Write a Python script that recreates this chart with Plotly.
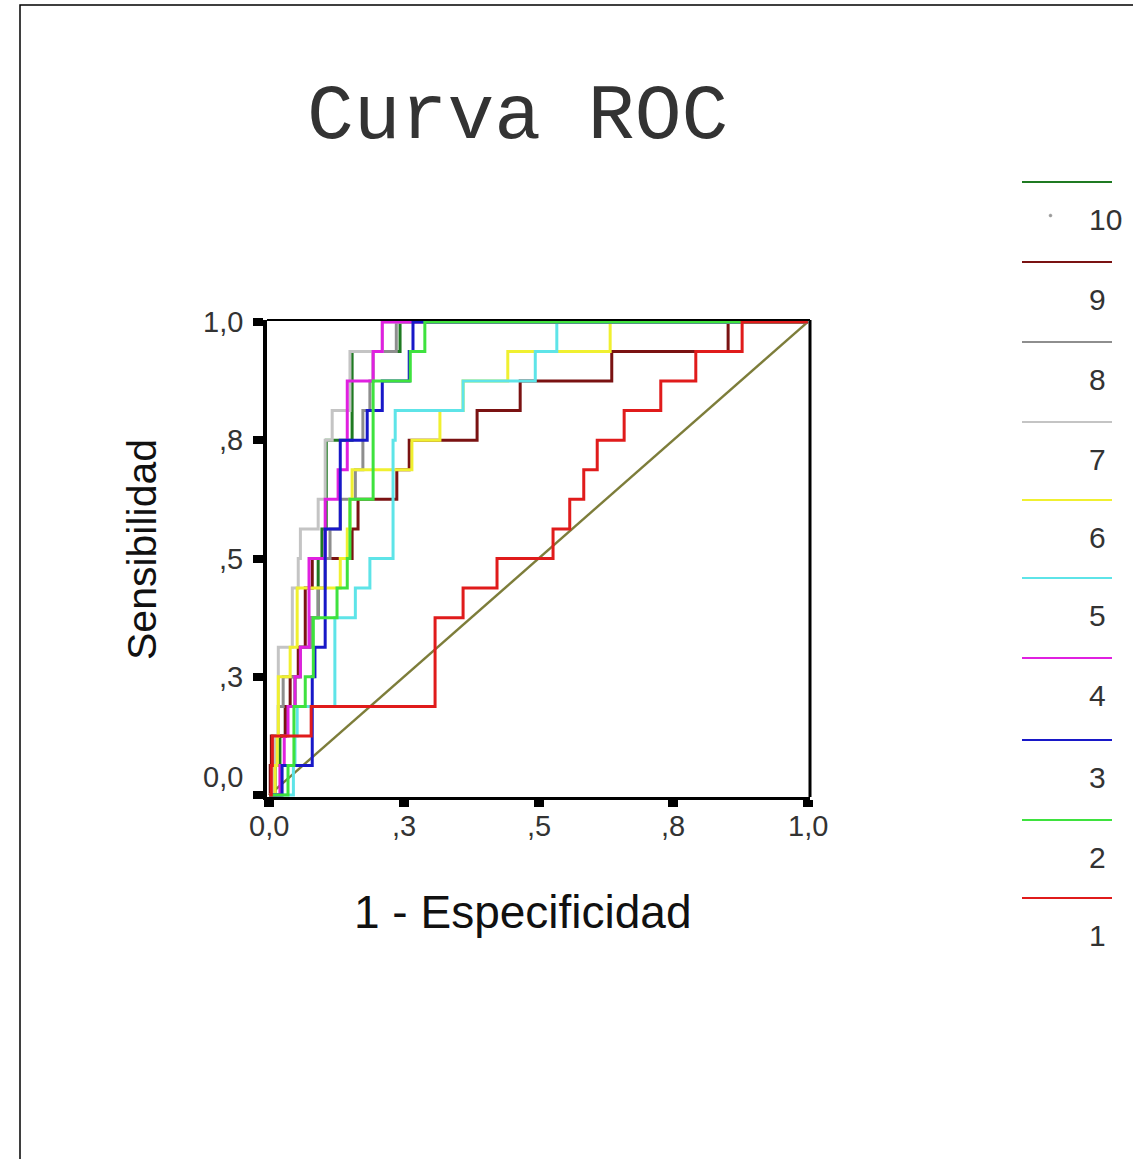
import plotly.graph_objects as go

# ---------------- data ----------------
# 1 - specificity at which each successive sensitivity step occurs (16 positives)
sensitivity_levels = [0.0625, 0.125, 0.1875, 0.25, 0.3125, 0.375, 0.4375, 0.5,
                      0.5625, 0.625, 0.6875, 0.75, 0.8125, 0.875, 0.9375, 1.0]

fpr_1 = [0.004, 0.006, 0.078, 0.308, 0.308, 0.308, 0.360, 0.423, 0.527, 0.558, 0.584, 0.609, 0.659, 0.727, 0.792, 0.878]
fpr_2 = [0.035, 0.046, 0.046, 0.067, 0.082, 0.082, 0.126, 0.145, 0.150, 0.150, 0.193, 0.193, 0.193, 0.193, 0.262, 0.289]
fpr_3 = [0.024, 0.080, 0.080, 0.080, 0.085, 0.104, 0.104, 0.104, 0.104, 0.132, 0.132, 0.132, 0.182, 0.210, 0.260, 0.267]
fpr_4 = [0.020, 0.028, 0.035, 0.048, 0.058, 0.074, 0.074, 0.074, 0.104, 0.104, 0.128, 0.145, 0.145, 0.145, 0.193, 0.210]
fpr_5 = [0.045, 0.048, 0.052, 0.122, 0.122, 0.122, 0.160, 0.187, 0.230, 0.230, 0.230, 0.230, 0.234, 0.360, 0.494, 0.534]
fpr_6 = [0.011, 0.015, 0.017, 0.017, 0.039, 0.052, 0.052, 0.132, 0.145, 0.150, 0.154, 0.265, 0.317, 0.360, 0.443, 0.633]
fpr_7 = [0.006, 0.011, 0.017, 0.017, 0.017, 0.043, 0.043, 0.054, 0.058, 0.091, 0.104, 0.104, 0.117, 0.150, 0.150, 0.210]
fpr_8 = [0.007, 0.011, 0.017, 0.026, 0.058, 0.076, 0.091, 0.104, 0.113, 0.132, 0.160, 0.174, 0.174, 0.187, 0.193, 0.236]
fpr_9 = [0.002, 0.004, 0.030, 0.039, 0.054, 0.067, 0.067, 0.080, 0.154, 0.165, 0.237, 0.260, 0.386, 0.466, 0.636, 0.852]
fpr_10 = [0.011, 0.020, 0.030, 0.048, 0.058, 0.076, 0.091, 0.091, 0.098, 0.106, 0.106, 0.106, 0.154, 0.154, 0.154, 0.243]

series_labels = ["1", "2", "3", "4", "5", "6", "7", "8", "9", "10"]
series_fpr = [fpr_1, fpr_2, fpr_3, fpr_4, fpr_5, fpr_6, fpr_7, fpr_8, fpr_9, fpr_10]

reference_x = [0.0, 1.0]
reference_y = [0.0, 1.0]

xtick_vals = [0.0, 0.25, 0.5, 0.75, 1.0]
xtick_text = ["0,0", ",3", ",5", ",8", "1,0"]
ytick_vals = [0.0, 0.25, 0.5, 0.75, 1.0]
ytick_text = ["0,0", ",3", ",5", ",8", "1,0"]

title_text = "Curva ROC"
x_title = "1 - Especificidad"
y_title = "Sensibilidad"

# ---------------- styles ----------------
colors = ["#e01b1b", "#3ee23e", "#1818c8", "#e020e0", "#5ee4e8",
          "#f0f030", "#c4c4c4", "#8e8e8e", "#7a1212", "#1f7a22"]
ref_color = "#7d7d3a"
tick_font = dict(family="Arial, Liberation Sans", size=29, color="#333")

W, H = 1133, 1159
ML, MR, MT, MB = 267, 323, 320, 362
PW, PH = W - ML - MR, H - MT - MB
pad = 0.004


def px_x(px):
    return (px - ML) / PW


def px_y(py):
    return (H - MB - py) / PH


def roc_path(fpr, sens):
    xs, ys = [0.0], [0.0]
    prev = 0.0
    for xv, yv in zip(fpr, sens):
        xs += [xv, xv]
        ys += [prev, yv]
        prev = yv
    xs.append(1.0)
    ys.append(1.0)
    return xs, ys


fig = go.Figure()

fig.add_trace(go.Scatter(x=reference_x, y=reference_y, mode="lines",
                         line=dict(color=ref_color, width=2.4), showlegend=False,
                         hoverinfo="skip"))

# series drawn from 10 down to 1 so that series 1 ends on top
for lab, fpr, col in reversed(list(zip(series_labels, series_fpr, colors))):
    xs, ys = roc_path(fpr, sensitivity_levels)
    fig.add_trace(go.Scatter(x=xs, y=ys, mode="lines", name=lab,
                             line=dict(color=col, width=3),
                             showlegend=False))

shapes = []
annotations = []

# frame top/right thin lines of plot box
shapes.append(dict(type="line", xref="paper", yref="paper", x0=0, x1=1, y0=1, y1=1,
                   line=dict(color="black", width=2)))
shapes.append(dict(type="line", xref="paper", yref="paper", x0=1, x1=1, y0=0, y1=1,
                   line=dict(color="black", width=3)))

# outer border of the picture
shapes.append(dict(type="rect", xref="paper", yref="paper",
                   x0=px_x(20), x1=px_x(1150), y0=px_y(1180), y1=px_y(5),
                   line=dict(color="black", width=1.5)))

# manual legend: line above label, from 10 (top) to 1 (bottom)
legend_line_y = [898, 820, 740, 658, 578, 500, 422, 342, 262, 182]
for lab, col, ly in zip(series_labels, colors, legend_line_y):
    shapes.append(dict(type="line", xref="paper", yref="paper",
                       x0=px_x(1022), x1=px_x(1112), y0=px_y(ly), y1=px_y(ly),
                       line=dict(color=col, width=2)))
    annotations.append(dict(text=lab, xref="paper", yref="paper",
                            x=px_x(1087), y=px_y(ly + 37), xanchor="left", yanchor="middle",
                            showarrow=False,
                            font=dict(family="Arial, Liberation Sans", size=30, color="#333")))
shapes.append(dict(type="circle", xref="paper", yref="paper",
                   x0=px_x(1049), x1=px_x(1052), y0=px_y(217), y1=px_y(214),
                   line=dict(color="#999", width=0.5), fillcolor="#999"))

# title
annotations.append(dict(text=title_text, xref="paper", yref="paper",
                        x=px_x(517), y=px_y(117), xanchor="center", yanchor="middle",
                        showarrow=False,
                        font=dict(family="Liberation Mono, Courier New, monospace", size=78, color="#333")))
# axis titles
annotations.append(dict(text=x_title, xref="paper", yref="paper",
                        x=px_x(523), y=px_y(912), xanchor="center", yanchor="middle",
                        showarrow=False,
                        font=dict(family="Arial, Liberation Sans", size=46, color="#111")))
annotations.append(dict(text=y_title, xref="paper", yref="paper",
                        x=px_x(142), y=px_y(550), xanchor="center", yanchor="middle",
                        textangle=-90, showarrow=False,
                        font=dict(family="Arial, Liberation Sans", size=41, color="#111")))

# x tick labels, placed along the x axis scale
for v, t in zip(xtick_vals, xtick_text):
    annotations.append(dict(text=t, xref="x", yref="paper", x=v, y=px_y(826),
                            xanchor="center", yanchor="middle", showarrow=False,
                            font=tick_font))
# y tick labels, placed along the y axis scale (0,0 lifted above the corner)
for v, t in zip(ytick_vals, ytick_text):
    annotations.append(dict(text=t, xref="paper", yref="y", x=px_x(245), y=v,
                            xanchor="right", yanchor="middle",
                            yshift=18 if v == 0 else 0, showarrow=False,
                            font=tick_font))

fig.update_layout(
    width=W, height=H,
    margin=dict(l=ML, r=MR, t=MT, b=MB, pad=0),
    paper_bgcolor="white", plot_bgcolor="white",
    shapes=shapes, annotations=annotations,
    showlegend=False,
)
fig.update_xaxes(range=[-pad, 1 + pad], tickvals=xtick_vals, showticklabels=False,
                 showgrid=False, zeroline=False, showline=True, linecolor="black", linewidth=3,
                 ticks="outside", ticklen=7, tickwidth=10, tickcolor="black")
fig.update_yaxes(range=[-pad, 1 + pad], tickvals=ytick_vals, showticklabels=False,
                 showgrid=False, zeroline=False, showline=True, linecolor="black", linewidth=4,
                 ticks="outside", ticklen=10, tickwidth=8, tickcolor="black")

fig.write_html("out.html", config={"displayModeBar": False},
               post_script="document.body.style.margin='0px';")
